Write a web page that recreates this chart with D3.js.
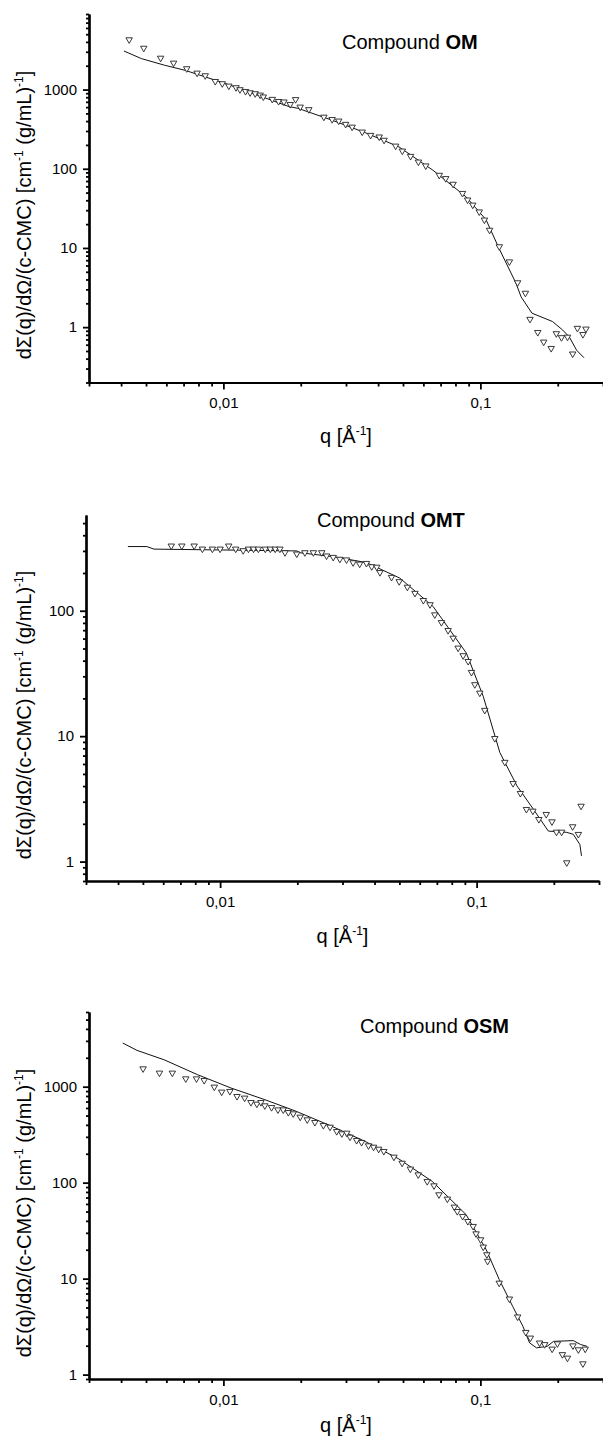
<!DOCTYPE html>
<html>
<head>
<meta charset="utf-8">
<script src="https://cdn.jsdelivr.net/npm/d3@7/dist/d3.min.js"></script>
<style>
body { margin: 0; background: #fff; }
svg text { font-family: Arial, 'Liberation Sans', sans-serif; fill: #000; }
</style>
</head>
<body>
<script>
// Compound OM - measured points and fit
let qOM = [0.0043, 0.0049, 0.0057, 0.0064, 0.0072, 0.0079, 0.0085, 0.0093, 0.0099, 0.0105, 0.0112, 0.0116, 0.0122, 0.0127, 0.0133, 0.0139, 0.0143, 0.0155, 0.0164, 0.0172, 0.0182, 0.0191, 0.0199, 0.0215, 0.0246, 0.0265, 0.0281, 0.0299, 0.0317, 0.0347, 0.0374, 0.0404, 0.0422, 0.0468, 0.0497, 0.0535, 0.0574, 0.0613, 0.0692, 0.0733, 0.0783, 0.0852, 0.0892, 0.0934, 0.099, 0.1037, 0.1086, 0.1185, 0.1297, 0.1396, 0.1497, 0.156, 0.1672, 0.1763, 0.1886, 0.1975, 0.2068, 0.2183, 0.2286, 0.2386, 0.2506, 0.2575]
let iOM = [4270, 3340, 2500, 2165, 1840, 1620, 1500, 1270, 1190, 1110, 1060, 1000, 950, 915, 890, 855, 810, 755, 710, 700, 650, 750, 603, 560, 450, 420, 402, 365, 337, 292, 265, 253, 230, 194, 168, 144, 122, 109, 83, 75.5, 64, 49, 40.5, 34.9, 28.6, 22.6, 16.8, 10.4, 6.7, 3.65, 2.69, 1.26, 0.86, 0.65, 0.54, 0.83, 0.74, 0.75, 0.46, 0.97, 0.81, 0.95]
let fitQOM = [0.0041, 0.0048, 0.0059, 0.0071, 0.0102, 0.018, 0.0195, 0.0265, 0.0355, 0.0482, 0.0653, 0.0879, 0.1053, 0.1185, 0.1375, 0.144, 0.1588, 0.1906, 0.209, 0.2219, 0.2369, 0.2531]
let fitIOM = [3070, 2460, 2030, 1750, 1190, 610, 580, 410, 287, 189, 96, 44.3, 22.6, 9.7, 3.6, 2.41, 1.5, 1.18, 0.92, 0.75, 0.51, 0.41]

// Compound OMT
let qOMT = [0.00645, 0.00709, 0.00792, 0.00853, 0.00933, 0.01, 0.0108, 0.0115, 0.0123, 0.0129, 0.0135, 0.0141, 0.015, 0.0157, 0.0164, 0.0171, 0.0179, 0.0199, 0.0214, 0.0231, 0.0249, 0.026, 0.0276, 0.0293, 0.0311, 0.033, 0.035, 0.0372, 0.039, 0.0408, 0.042, 0.0466, 0.0499, 0.0537, 0.0575, 0.062, 0.0658, 0.0687, 0.0729, 0.0774, 0.081, 0.0847, 0.0886, 0.0927, 0.0955, 0.0984, 0.1029, 0.1076, 0.1177, 0.1288, 0.1387, 0.1481, 0.1564, 0.1657, 0.1748, 0.1868, 0.1967, 0.2048, 0.2145, 0.2246, 0.2368, 0.2493, 0.2554]
let iOMT = [329, 329, 329, 311, 311, 311, 329, 311, 302, 311, 311, 311, 311, 311, 311, 311, 291, 284, 291, 291, 291, 274, 267, 258, 255, 242, 236, 239, 225, 223, 202, 185, 171, 154.5, 138, 121, 112, 93, 80.7, 69.7, 60.6, 50.5, 43.9, 39.5, 32.3, 25.8, 22.1, 16.1, 9.6, 6.2, 4.2, 3.5, 2.61, 2.53, 2.17, 2.38, 2.08, 1.72, 1.72, 0.98, 1.9, 1.65, 2.77]
let fitQOMT = [0.00437, 0.00518, 0.00552, 0.0199, 0.0205, 0.0276, 0.0372, 0.0502, 0.0677, 0.0912, 0.1061, 0.1232, 0.1438, 0.1657, 0.1904, 0.2246, 0.2381, 0.2526, 0.2564]
let fitIOMT = [325, 325, 310, 300, 290, 270, 242, 182, 108, 46, 20.8, 7.4, 4.0, 2.65, 1.75, 1.71, 1.65, 1.37, 1.11]

// Compound OSM
let qOSM = [0.00487, 0.00564, 0.00633, 0.00714, 0.00786, 0.00842, 0.00922, 0.00985, 0.0106, 0.0113, 0.0121, 0.0128, 0.0135, 0.014, 0.0145, 0.0154, 0.0163, 0.0171, 0.0179, 0.0187, 0.0199, 0.0212, 0.0227, 0.0245, 0.026, 0.0276, 0.0289, 0.0302, 0.0311, 0.033, 0.0345, 0.0367, 0.0384, 0.0402, 0.0421, 0.0461, 0.0496, 0.0534, 0.0573, 0.0621, 0.066, 0.069, 0.0744, 0.0792, 0.0813, 0.0853, 0.0894, 0.0937, 0.0962, 0.1002, 0.1026, 0.106, 0.1067, 0.1184, 0.1297, 0.1396, 0.1502, 0.1565, 0.17, 0.1779, 0.1902, 0.1994, 0.2085, 0.2182, 0.2292, 0.2406, 0.2506, 0.2558]
let iOSM = [1540, 1390, 1390, 1211, 1211, 1163, 993, 881, 895, 793, 763, 686, 660, 686, 634, 608, 575, 575, 540, 523, 483, 453, 425, 395, 380, 342, 324, 329, 299, 276, 263, 243, 235, 224, 212, 185, 160, 139, 121, 103, 93, 75, 67.6, 55.8, 50.2, 44.6, 39.5, 35.1, 29.4, 25.5, 21.4, 17.8, 15.2, 9.0, 6.15, 4.0, 2.76, 2.41, 2.14, 2.06, 1.85, 2.1, 1.62, 1.49, 2.0, 1.82, 1.3, 1.85]
let fitQOSM = [0.00406, 0.00461, 0.00587, 0.00793, 0.0107, 0.0145, 0.019, 0.0264, 0.0356, 0.0481, 0.065, 0.088, 0.1054, 0.1184, 0.1335, 0.1464, 0.1554, 0.1654, 0.1818, 0.1926, 0.23, 0.2453, 0.2601]
let fitIOSM = [2850, 2390, 1910, 1334, 969, 732, 560, 387, 269, 177, 103, 46.4, 20, 9.8, 5.15, 3.18, 2.14, 1.9, 1.97, 2.22, 2.26, 2.06, 1.97]

let xLabels = [0.01, 0.1]
let xLabelText = ['0,01', '0,1']

let svg = d3.select('body').append('svg')
    .attr('width', 603)
    .attr('height', 1445)

let isMajor = v => Math.abs(Math.log10(v) - Math.round(Math.log10(v))) < 1e-6

function drawPanel(p) {
    let x = d3.scaleLog().domain([0.003, 0.3]).range([p.left, p.right])
    let y = d3.scaleLog().domain(p.yDomain).range([p.bottom, p.top])

    let g = svg.append('g')

    // y axis: minor ticks then labelled decades
    let yMinor = y.ticks().filter(v => !isMajor(v))
    g.append('g')
        .attr('transform', 'translate(' + p.left + ',0)')
        .call(d3.axisLeft(y).tickValues(yMinor).tickSize(3).tickSizeOuter(0).tickFormat(''))
    g.append('g')
        .attr('transform', 'translate(' + p.left + ',0)')
        .call(d3.axisLeft(y).tickValues(p.yLabels).tickSize(6).tickSizeOuter(0).tickPadding(6).tickFormat(d3.format('d')))

    // x axis
    let xMinor = x.ticks().filter(v => !isMajor(v))
    g.append('g')
        .attr('transform', 'translate(0,' + p.bottom + ')')
        .call(d3.axisBottom(x).tickValues(xMinor).tickSize(4).tickSizeOuter(0).tickFormat(''))
    g.append('g')
        .attr('transform', 'translate(0,' + p.bottom + ')')
        .call(d3.axisBottom(x).tickValues(xLabels).tickSize(7).tickSizeOuter(0).tickPadding(8)
            .tickFormat((d, i) => xLabelText[i]))

    g.selectAll('.domain').attr('stroke', '#000').attr('stroke-width', 2.2)
    g.selectAll('.tick line').attr('stroke', '#000').attr('stroke-width', 1.8)
    g.selectAll('.tick text').style('font-size', '15px').attr('fill', '#000')

    // fit line
    let fit = p.fitQ.map((q, i) => ({q: q, v: p.fitI[i]}))
    g.append('path')
        .datum(fit)
        .attr('fill', 'none')
        .attr('stroke', '#111')
        .attr('stroke-width', 1)
        .attr('d', d3.line().x(d => x(d.q)).y(d => y(d.v)))

    // measured points
    let pts = p.q.map((q, i) => ({q: q, v: p.i[i]}))
    g.selectAll('.pt')
        .data(pts)
        .enter().append('path')
        .attr('class', 'pt')
        .attr('d', d3.symbol(d3.symbolTriangle).size(18))
        .attr('transform', d => 'translate(' + x(d.q) + ',' + y(d.v) + ') rotate(180)')
        .attr('fill', '#fff')
        .attr('stroke', '#222')
        .attr('stroke-width', 0.9)

    // compound title
    let t = g.append('text')
        .attr('x', p.titleX)
        .attr('y', p.titleY)
        .style('font-size', '20px')
    t.append('tspan').text('Compound ')
    t.append('tspan').style('font-weight', 'bold').text(p.name)

    // x title
    let xt = g.append('text')
        .attr('x', (p.left + p.right) / 2)
        .attr('y', p.xTitleY)
        .attr('text-anchor', 'middle')
        .style('font-size', '20px')
    xt.append('tspan').text('q [Å')
    xt.append('tspan').attr('dy', -8).style('font-size', '12px').text('-1')
    xt.append('tspan').attr('dy', 8).text(']')

    // y title
    let yt = g.append('text')
        .attr('transform', 'translate(31,' + p.yTitleY + ') rotate(-90)')
        .attr('text-anchor', 'middle')
        .style('font-size', '20px')
    yt.append('tspan').text('dΣ(q)/dΩ/(c-CMC) [cm')
    yt.append('tspan').attr('dy', -8).style('font-size', '12px').text('-1')
    yt.append('tspan').attr('dy', 8).text(' (g/mL)')
    yt.append('tspan').attr('dy', -8).style('font-size', '12px').text('-1')
    yt.append('tspan').attr('dy', 8).text(']')
}

drawPanel({
    name: 'OM', q: qOM, i: iOM, fitQ: fitQOM, fitI: fitIOM,
    left: 89, right: 603, top: 14, bottom: 382.5,
    yDomain: [0.2, 9000], yLabels: [1, 10, 100, 1000],
    titleX: 342, titleY: 49, xTitleY: 443, yTitleY: 215
})

drawPanel({
    name: 'OMT', q: qOMT, i: iOMT, fitQ: fitQOMT, fitI: fitIOMT,
    left: 86, right: 599, top: 515, bottom: 881,
    yDomain: [0.7, 580], yLabels: [1, 10, 100],
    titleX: 317, titleY: 527, xTitleY: 943, yTitleY: 715
})

drawPanel({
    name: 'OSM', q: qOSM, i: iOSM, fitQ: fitQOSM, fitI: fitIOSM,
    left: 89, right: 603, top: 1012, bottom: 1379,
    yDomain: [0.9, 6000], yLabels: [1, 10, 100, 1000],
    titleX: 360, titleY: 1033, xTitleY: 1432, yTitleY: 1213
})
</script>
</body>
</html>
